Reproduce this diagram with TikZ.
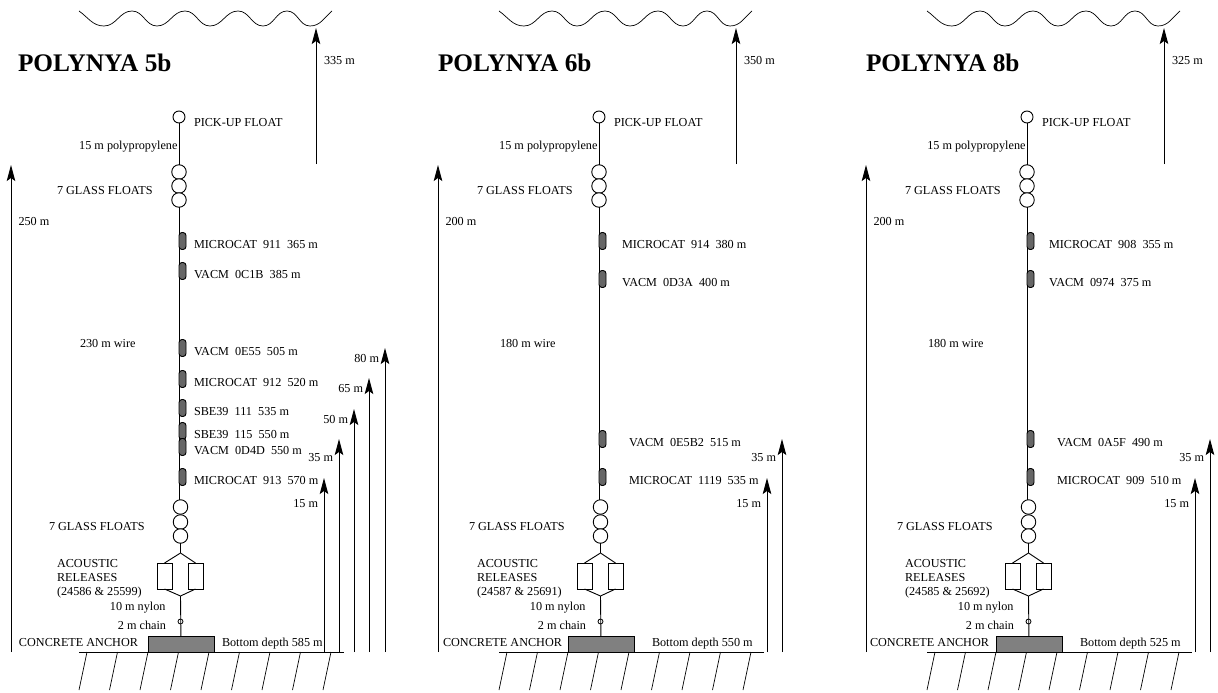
\documentclass[tikz,border=0pt]{standalone}
\usepackage{fontspec}
\setmainfont{Liberation Serif}
\usepackage{tikz}
\usetikzlibrary{arrows.meta}
\definecolor{instgray}{HTML}{666666}
\definecolor{anchorgray}{HTML}{808080}
\tikzset{
    every node/.style={font=\fontsize{12.2}{14}\selectfont,inner sep=0pt,outer sep=0pt},
    lbl/.style={anchor=base west},
    rlbl/.style={anchor=base east},
    titlelbl/.style={anchor=base west,font=\fontsize{25.3}{28}\selectfont\bfseries},
    ball/.style={circle,draw,fill=white,line width=0.9pt},
    pickfloat/.style={ball,minimum size=12pt},
    glassfloat/.style={ball,minimum size=14.5pt},
    chainring/.style={circle,draw,line width=0.8pt,minimum size=5pt},
    instr/.style={rectangle,rounded corners=3pt,draw,fill=instgray,line width=0.9pt,minimum width=7pt,minimum height=17pt,anchor=west},
    release/.style={rectangle,draw,fill=white,line width=0.9pt,minimum width=15pt,minimum height=26pt},
    concrete/.style={rectangle,draw,fill=anchorgray,line width=0.9pt,minimum width=66pt,minimum height=15.5pt},
    wire/.style={line width=0.9pt},
    meas/.style={line width=0.9pt,-{Stealth[length=16pt,width=8.5pt,inset=3pt]}}
}
\begin{document}
\begin{tikzpicture}[x=1pt,y=-1pt]
\useasboundingbox (0,0) rectangle (1218,693);
% common parts of the three moorings
\foreach \p/\dx/\ttl/\sfc/\lft/\lftx/\wirelbl/\ancx/\depth/\depx/\rel in {%
    a/0/5b/335/250/11/230/19/585/222/24586 \& 25599,%
    b/420/6b/350/200/18/180/23/550/232/24587 \& 25691,%
    c/848/8b/325/200/18/180/22/525/232/24585 \& 25692}{
\begin{scope}[shift={(\dx,0)}]
    % sea surface and ground
    \coordinate (wave\p) at (79,11);
    \draw[line width=0.7pt] (wave\p) to[out=-35,in=180] (104,26) to[out=0,in=180] (132,11)
        to[out=0,in=180] (157,26) to[out=0,in=180] (185,11) to[out=0,in=180] (210,26)
        to[out=0,in=180] (238,11) to[out=0,in=180] (263,26) to[out=0,in=180] (287,11)
        to[out=0,in=180] (310,26) to[out=0,in=-140] (332,11);
    \coordinate (gndl\p) at (79,652);
    \coordinate (gndr\p) at (344,652);
    \draw[wire] (gndl\p) -- (gndr\p);
    \foreach \h in {0,...,8}{
        \coordinate (ht\p\h) at (87+30.5*\h,652);
        \coordinate (hb\p\h) at (79+30.5*\h,690);
        \draw[line width=0.7pt] (ht\p\h) -- (hb\p\h);
    }
    % title
    \node[titlelbl] (title\p) at (18,72) {POLYNYA \ttl};
    % arrows from surface and from the bottom
    \coordinate (sfcb\p) at (316,164);
    \coordinate (sfct\p) at (316,28);
    \draw[meas] (sfcb\p) -- (sfct\p);
    \node[lbl] (sfclbl\p) at (324,64) {\sfc~m};
    \coordinate (lftb\p) at (\lftx,652);
    \coordinate (lftt\p) at (\lftx,165);
    \draw[meas] (lftb\p) -- (lftt\p);
    \node[lbl] (lftlbl\p) at (\lftx+7.5,225) {\lft~m};
    % the line and its floats
    \node[pickfloat] (pick\p) at (179,117) {};
    \node[lbl] (picklbl\p) at (194,126) {PICK-UP FLOAT};
    \node[rlbl] (polylbl\p) at (177.5,149) {15 m polypropylene};
    \foreach \g/\yy in {1/172,2/186,3/200}{
        \node[glassfloat] (gu\p\g) at (179,\yy) {};
    }
    \draw[wire] (pick\p) -- (gu\p1);
    \node[lbl] (gulbl\p) at (57,194) {7 GLASS FLOATS};
    \node[lbl] (wirelbl\p) at (80,347) {\wirelbl~m wire};
    \coordinate (wireend\p) at (179,500);
    \draw[wire] (gu\p3) -- (wireend\p);
    \foreach \g/\yy in {1/507,2/522,3/536}{
        \node[glassfloat] (gl\p\g) at (180.5,\yy) {};
    }
    \node[lbl] (gllbl\p) at (49,530) {7 GLASS FLOATS};
    % releases
    \coordinate (reltop\p) at (180.5,553);
    \coordinate (relbot\p) at (180.5,596);
    \node[release] (rell\p) at (164.5,576) {};
    \node[release] (relr\p) at (195.5,576) {};
    \draw[wire] (gl\p3) -- (reltop\p);
    \draw[wire] (reltop\p) -- (rell\p.north);
    \draw[wire] (reltop\p) -- (relr\p.north);
    \draw[wire] (rell\p.south) -- (relbot\p);
    \draw[wire] (relr\p.south) -- (relbot\p);
    \node[anchor=north west,align=left] (rellbl\p) at (57,559.5) {ACOUSTIC\\RELEASES\\(\rel)};
    \node[rlbl] (nylonlbl\p) at (165.5,610) {10 m nylon};
    \node[rlbl] (chainlbl\p) at (166,629) {2 m chain};
    % anchor
    \node[concrete] (anc\p) at (181,644.5) {};
    \draw[wire] (relbot\p) -- (anc\p);
    \node[chainring] (ring\p) at (180.5,621.5) {};
    \node[lbl] (anclbl\p) at (\ancx,646) {CONCRETE ANCHOR};
    \node[lbl] (deplbl\p) at (\depx,646) {Bottom depth \depth~m};
\end{scope}
}
% instruments
\foreach \p/\dx/\n/\yy/\lx/\txt in {%
    a/0/1/241/194/MICROCAT~~911~~365 m,
    a/0/2/271/194/VACM~~0C1B~~385 m,
    a/0/3/348/194/VACM~~0E55~~505 m,
    a/0/4/379/194/MICROCAT~~912~~520 m,
    a/0/5/408/194/SBE39~~111~~535 m,
    a/0/6/431/194/SBE39~~115~~550 m,
    a/0/7/447/194/VACM~~0D4D~~550 m,
    a/0/8/477/194/MICROCAT~~913~~570 m,
    b/420/1/241/202/MICROCAT~~914~~380 m,
    b/420/2/279/202/VACM~~0D3A~~400 m,
    b/420/3/439/209/VACM~~0E5B2~~515 m,
    b/420/4/477/209/MICROCAT~~1119~~535 m,
    c/848/1/241/201/MICROCAT~~908~~355 m,
    c/848/2/279/201/VACM~~0974~~375 m,
    c/848/3/439/209/VACM~~0A5F~~490 m,
    c/848/4/477/209/MICROCAT~~909~~510 m}{
    \node[instr] (inst\p\n) at (179+\dx,\yy) {};
    \node[lbl] (instlbl\p\n) at (\lx+\dx,\yy+7) {\txt};
}
% heights above the bottom
\foreach \p/\dx/\n/\ax/\tip/\lx/\ly/\txt in {%
    a/0/1/324/478/318/507/15,
    a/0/2/339/439/333/461/35,
    a/0/3/354/409/348/423/50,
    a/0/4/369/378/363/392/65,
    a/0/5/385/348/379/362/80,
    b/420/1/347/478/341/507/15,
    b/420/2/362/439/356/461/35,
    c/848/1/347/478/341/507/15,
    c/848/2/362/439/356/461/35}{
    \coordinate (hgtb\p\n) at (\ax+\dx,652);
    \coordinate (hgtt\p\n) at (\ax+\dx,\tip);
    \draw[meas] (hgtb\p\n) -- (hgtt\p\n);
    \node[rlbl] (hgtlbl\p\n) at (\lx+\dx,\ly) {\txt~m};
}
\end{tikzpicture}
\end{document}
